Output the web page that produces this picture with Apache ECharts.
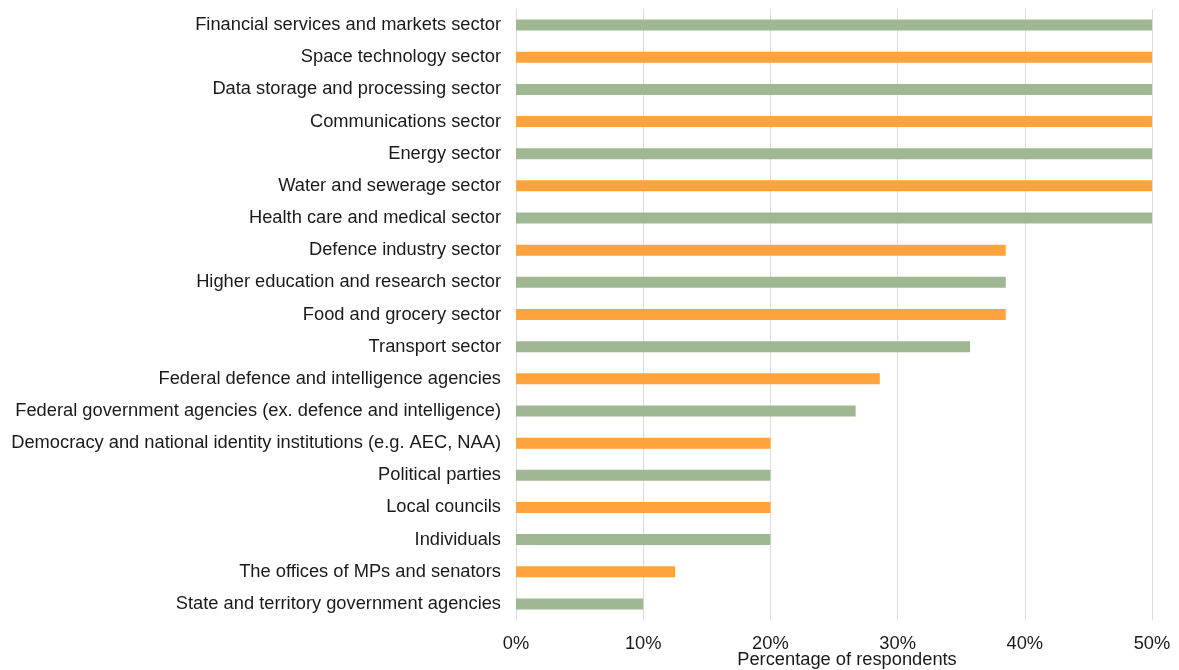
<!DOCTYPE html>
<html>
<head>
<meta charset="utf-8">
<script src="https://cdn.jsdelivr.net/npm/echarts@6/dist/echarts.min.js"></script>
<style>
  html, body { margin: 0; padding: 0; background: #ffffff; }
  #chart { width: 1179px; height: 670px; }
</style>
</head>
<body>
<div id="chart"></div>
<script>
// Sectors, listed top to bottom
const categories = [
  'Financial services and markets sector',
  'Space technology sector',
  'Data storage and processing sector',
  'Communications sector',
  'Energy sector',
  'Water and sewerage sector',
  'Health care and medical sector',
  'Defence industry sector',
  'Higher education and research sector',
  'Food and grocery sector',
  'Transport sector',
  'Federal defence and intelligence agencies',
  'Federal government agencies (ex. defence and intelligence)',
  'Democracy and national identity institutions (e.g. AEC, NAA)',
  'Political parties',
  'Local councils',
  'Individuals',
  'The offices of MPs and senators',
  'State and territory government agencies'
];

// Share of respondents, percent
const values = [
  50, 50, 50, 50, 50, 50, 50,
  38.5, 38.5, 38.5, 35.7, 28.6, 26.7,
  20, 20, 20, 20, 12.5, 10
];

const xTicks = [0, 10, 20, 30, 40, 50];

const GREEN = '#a0b794';
const ORANGE = '#fea33d';
const FONT = '"Liberation Sans", Arial, sans-serif';
const FS = 18.3;

const chart = echarts.init(document.getElementById('chart'));
chart.setOption({
  backgroundColor: '#ffffff',
  animation: false,
  grid: {
    left: 516, right: 27, top: 9, bottom: 50,
    containLabel: false,
    outerBoundsMode: 'none'
  },
  xAxis: {
    type: 'value',
    min: xTicks[0],
    max: xTicks[xTicks.length - 1],
    interval: 10,
    axisLine: { show: false },
    axisTick: { show: false },
    axisLabel: {
      formatter: v => v + '%',
      color: '#1a1a1a',
      fontSize: FS,
      fontFamily: FONT,
      margin: 15
    },
    splitLine: { show: true, lineStyle: { color: '#dcdcdc', width: 1 } },
    name: 'Percentage of respondents',
    nameLocation: 'middle',
    nameMoveOverlap: false,
    nameGap: 40,
    nameTextStyle: {
      color: '#1a1a1a',
      fontSize: FS,
      fontFamily: FONT,
      verticalAlign: 'middle',
      padding: [0, 0, 0, 26]
    }
  },
  yAxis: {
    type: 'category',
    data: categories,
    inverse: true,
    axisLine: { show: false },
    axisTick: { show: false },
    axisLabel: {
      color: '#1a1a1a',
      fontSize: FS,
      fontFamily: FONT,
      margin: 15
    }
  },
  series: [{
    type: 'bar',
    data: values,
    barWidth: 11,
    itemStyle: {
      color: p => (p.dataIndex % 2 === 0 ? GREEN : ORANGE)
    }
  }]
});
</script>
</body>
</html>
